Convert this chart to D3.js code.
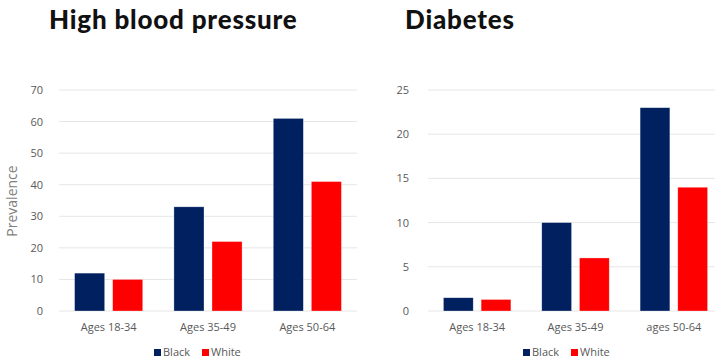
<!DOCTYPE html>
<html>
<head>
<meta charset="utf-8">
<script src="https://cdn.jsdelivr.net/npm/d3@7"></script>
<style>
  html, body { margin: 0; padding: 0; background: #ffffff; }
  svg { display: block; }
</style>
</head>
<body>
<svg id="chart" width="715" height="361"></svg>
<script>
// Prevalence by age group and race
const series = ["Black", "White"];
const seriesColors = ["#002060", "#ff0000"];

const bpCategories = ["Ages 18-34", "Ages 35-49", "Ages 50-64"];
const bpBlack = [12, 33, 61];
const bpWhite = [10, 22, 41];
const bpTicks = [0, 10, 20, 30, 40, 50, 60, 70];

const dmCategories = ["Ages 18-34", "Ages 35-49", "ages 50-64"];
const dmBlack = [1.5, 10, 23];
const dmWhite = [1.3, 6, 14];
const dmTicks = [0, 5, 10, 15, 20, 25];

const svg = d3.select("#chart");
const textColor = "#595959";
const fontFamily = "'Open Sans', 'Liberation Sans', sans-serif";

function drawPanel(opts) {
  const g = svg.append("g");
  const x0 = d3.scaleBand().domain(opts.categories).range([opts.left, opts.right]).padding(0);
  const bw = x0.bandwidth();
  const side = bw * 0.157;
  const x1 = d3.scaleBand().domain(series).range([side, bw - side]).paddingInner(0.21);
  const y = d3.scaleLinear().domain([0, d3.max(opts.ticks)]).range([opts.bottom, opts.top]);

  // gridlines
  g.append("g")
    .selectAll("line")
    .data(opts.ticks)
    .join("line")
    .attr("x1", opts.left)
    .attr("x2", opts.right)
    .attr("y1", d => y(d))
    .attr("y2", d => y(d))
    .attr("stroke", "#e6e6e6")
    .attr("stroke-width", 1);

  // y-axis labels
  const yAxis = d3.axisLeft(y).tickValues(opts.ticks).tickSize(0).tickPadding(opts.labelPad);
  const ya = g.append("g").attr("transform", `translate(${opts.left},0)`).call(yAxis);
  ya.select(".domain").remove();
  ya.selectAll("text")
    .attr("fill", textColor)
    .style("font-family", fontFamily)
    .style("font-size", "11px");

  // x-axis labels
  const xAxis = d3.axisBottom(x0).tickSize(0).tickPadding(12);
  const xa = g.append("g").attr("transform", `translate(0,${opts.bottom})`).call(xAxis);
  xa.select(".domain").remove();
  xa.selectAll("text")
    .attr("fill", textColor)
    .style("font-family", fontFamily)
    .style("font-size", "11px");

  // bars
  const rows = opts.categories.map((c, i) => ({
    cat: c,
    vals: [opts.black[i], opts.white[i]]
  }));
  g.append("g")
    .selectAll("g")
    .data(rows)
    .join("g")
    .attr("transform", d => `translate(${x0(d.cat)},0)`)
    .selectAll("rect")
    .data(d => d.vals.map((v, j) => ({ s: series[j], v, c: seriesColors[j] })))
    .join("rect")
    .attr("x", d => x1(d.s))
    .attr("width", x1.bandwidth())
    .attr("y", d => y(d.v))
    .attr("height", d => opts.bottom - y(d.v))
    .attr("fill", d => d.c)
    .attr("stroke", "#ffffff")
    .attr("stroke-opacity", 0.5)
    .attr("stroke-width", 0.6);

  // title
  svg.append("text")
    .attr("x", opts.titleX)
    .attr("y", 29)
    .text(opts.title)
    .attr("fill", "#111111")
    .style("font-family", "Lato, 'Open Sans', sans-serif")
    .style("font-weight", "900")
    .style("font-size", "26px")
    .style("letter-spacing", "0.8px");

  // legend
  const lg = svg.append("g").attr("transform", `translate(${opts.legendX},352)`);
  const names = [["Black", 0], ["White", 48]];
  names.forEach(([n, dx], j) => {
    lg.append("rect")
      .attr("x", dx)
      .attr("y", -3)
      .attr("width", 7)
      .attr("height", 7)
      .attr("fill", seriesColors[j]);
    lg.append("text")
      .attr("x", dx + 9)
      .attr("y", 0)
      .attr("dy", "0.35em")
      .text(n)
      .attr("fill", textColor)
      .style("font-family", fontFamily)
      .style("font-size", "11px");
  });
  return g;
}

drawPanel({
  title: "High blood pressure",
  titleX: 49,
  categories: bpCategories,
  black: bpBlack,
  white: bpWhite,
  ticks: bpTicks,
  left: 59, right: 357, top: 90, bottom: 311,
  labelPad: 16,
  legendX: 154
});

drawPanel({
  title: "Diabetes",
  titleX: 405,
  categories: dmCategories,
  black: dmBlack,
  white: dmWhite,
  ticks: dmTicks,
  left: 428, right: 723, top: 90, bottom: 311,
  labelPad: 19,
  legendX: 523
});

// y-axis title
svg.append("text")
  .attr("transform", "translate(17,201) rotate(-90)")
  .attr("text-anchor", "middle")
  .text("Prevalence")
  .attr("fill", "#7f7f7f")
  .style("font-family", fontFamily)
  .style("font-size", "14px");
</script>
</body>
</html>
